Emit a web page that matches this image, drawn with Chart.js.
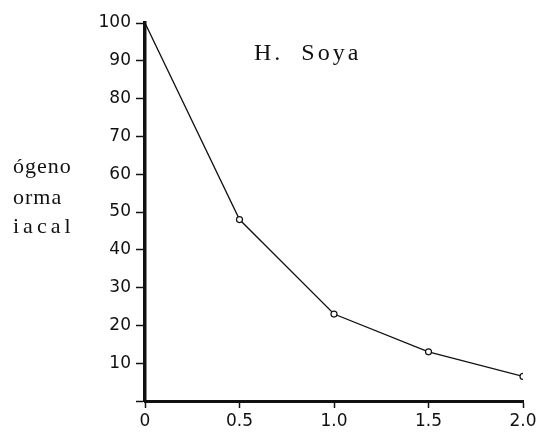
<!DOCTYPE html>
<html>
<head>
<meta charset="utf-8">
<script src="https://cdn.jsdelivr.net/npm/chart.js@4/dist/chart.umd.min.js"></script>
<style>
  body { margin: 0; background: #fff; }
</style>
</head>
<body>
<canvas id="SoyaChart" width="544" height="433"></canvas>
<script>
const doses = [0, 0.5, 1.0, 1.5, 2.0];
const percent = [100, 48, 23, 13, 6.5];
const xTicks = [0, 0.5, 1.0, 1.5, 2.0];
const yTicks = [0, 10, 20, 30, 40, 50, 60, 70, 80, 90, 100];
const sideLabel = ['ógeno', 'orma', 'iacal'];
const titleText = 'H.  Soya';

const soya_ctx = document.getElementById('SoyaChart').getContext('2d');

// texts that sit outside chart.js own title/axis spots
const textPlugin = {
    id: 'scanText',
    afterDraw(chart) {
        const c = chart.ctx;
        c.save();
        c.fillStyle = '#111';
        c.textBaseline = 'alphabetic';
        c.textAlign = 'left';
        c.font = '24px "Liberation Serif", serif';
        c.letterSpacing = '3px';
        c.fillText(titleText, 254, 60);
        c.font = '22px "Liberation Serif", serif';
        c.letterSpacing = '1px';
        c.fillText(sideLabel[0], 13, 173);
        c.fillText(sideLabel[1], 13, 204);
        c.letterSpacing = '4px';
        c.fillText(sideLabel[2], 13, 233);
        c.restore();
    }
};

const line_data = {
    datasets: [{
        label: 'H. Soya',
        data: doses.map((d, i) => ({x: d, y: percent[i]})),
        borderColor: '#111',
        borderWidth: 1.3,
        pointRadius: [0, 3, 3, 3, 3],
        pointBorderWidth: 1.2,
        pointBackgroundColor: '#fff',
        pointBorderColor: '#111',
        tension: 0
    }]
};

const line_config = {
    type: 'line',
    data: line_data,
    plugins: [textPlugin],
    options: {
        responsive: false,
        animation: false,
        layout: {
            padding: {left: 95, top: 23, right: 21, bottom: 2}
        },
        scales: {
            x: {
                type: 'linear',
                min: 0,
                max: 2,
                afterFit: (s) => { s.height = 30; },
                afterBuildTicks: (s) => { s.ticks = xTicks.map(v => ({value: v})); },
                grid: {
                    drawOnChartArea: false,
                    drawTicks: true,
                    tickLength: 7,
                    tickWidth: 1.5,
                    color: '#111'
                },
                border: {color: '#111', width: 3},
                ticks: {
                    color: '#111',
                    padding: 3,
                    font: {family: 'DejaVu Sans', size: 17},
                    callback: (v) => v === 0 ? '0' : v.toFixed(1)
                }
            },
            y: {
                min: 0,
                max: 100,
                afterFit: (s) => { s.width = 50; },
                afterBuildTicks: (s) => { s.ticks = yTicks.map(v => ({value: v})); },
                grid: {
                    drawOnChartArea: false,
                    drawTicks: true,
                    tickLength: 9,
                    tickWidth: 1.5,
                    color: '#111'
                },
                border: {color: '#111', width: 3.5},
                ticks: {
                    color: '#111',
                    padding: 5,
                    font: {family: 'DejaVu Sans', size: 17},
                    // the scan shows no label at the origin
                    callback: (v) => v === 0 ? '' : v
                }
            }
        },
        plugins: {
            legend: {display: false},
            title: {display: false},
            tooltip: {enabled: false}
        }
    }
};

new Chart(soya_ctx, line_config);
</script>
</body>
</html>
